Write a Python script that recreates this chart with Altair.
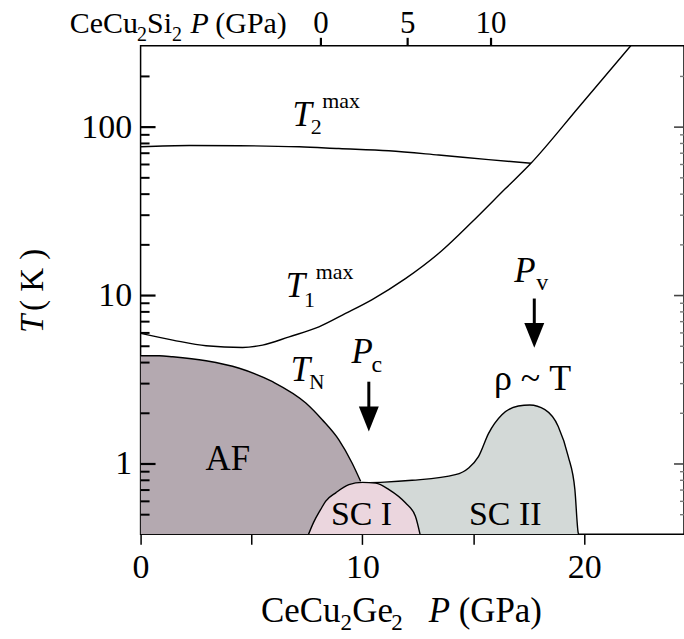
import math

import altair as alt
import pandas as pd

FONT = "Liberation Serif"

# Axis ranges: pressure on CeCu2Ge2 scale (GPa), temperature (K, log)
P_RANGE = [0, 24.5]
T_RANGE = [0.382, 304]
T_FLOOR = 0.382

# T2max crossover line
t2_p = [0, 2.2, 4.45, 7.15, 8.94, 11.19, 13.44, 15.69, 17.6]
t2_t = [76.4, 77.8, 77.6, 76.4, 74.6, 72.4, 68.3, 64.1, 61.0]

# T1max line, merging into the single high-pressure branch
t1_p = [0, 1.45, 2.95, 4.6, 5.5, 6.7, 8.04, 9.24, 10.44, 11.94, 13.59, 14.94, 16.44, 17.6, 19.81, 22.1]
t1_t = [5.96, 5.44, 5.03, 4.92, 5.08, 5.69, 6.52, 7.83, 9.47, 12.6, 18.5, 27.3, 43.0, 61.0, 134, 304]

# Neel temperature T_N bounding the AF phase
af_p = [0, 0.85, 1.45, 2.95, 4.45, 5.95, 7.45, 8.19, 8.94, 9.54, 9.92]
af_t = [4.39, 4.39, 4.33, 4.10, 3.70, 3.08, 2.30, 1.83, 1.39, 1.01, 0.789]

# Superconducting dome I
sc1_p = [7.57, 7.8, 8.12, 8.34, 8.8, 9.39, 10.0, 10.6, 11.2, 11.94, 12.39, 12.6]
sc1_t = [0.382, 0.45, 0.537, 0.60, 0.674, 0.754, 0.778, 0.77, 0.705, 0.588, 0.49, 0.382]

# Superconducting dome II
sc2_p = [10.0, 11.0, 12.24, 14.19, 14.79, 15.24, 15.69, 16.29, 17.03, 17.55, 18.23, 18.83, 19.28, 19.58, 19.73, 19.75]
sc2_t = [0.775, 0.78, 0.80, 0.864, 0.947, 1.11, 1.52, 1.96, 2.21, 2.24, 2.10, 1.67, 1.11, 0.705, 0.39, 0.382]

# Temperature ticks
t_major = [1, 10, 100]
t_minor = [0.5, 0.6, 0.7, 0.8, 0.9, 2, 3, 4, 5, 6, 7, 8, 9,
           20, 30, 40, 50, 60, 70, 80, 90, 200]

# CeCu2Si2 pressure scale on top: labels and where they sit on the CeCu2Ge2 scale
top_labels = ["0", "5", "10"]
top_label_p = [8.13, 12.04, 15.8]

# Arrows marking P_c and P_v
arrow_p = [10.29, 17.75]
arrow_t_start = [3.08, 9.6]
arrow_t_end = [2.0, 6.4]
arrow_head_t = [1.85, 5.80]

W, H = 545, 490
PX_PER_DECADE = H / math.log10(T_RANGE[1] / T_RANGE[0])

xs = alt.Scale(domain=P_RANGE, nice=False, zero=False)
ys = alt.Scale(type="log", domain=T_RANGE, nice=False)

x_axis = alt.Axis(values=[0, 5, 10, 15, 20],
                  labelExpr="datum.value % 10 === 0 ? datum.label : ''",
                  tickSize=10, tickWidth=1.5, tickColor="black",
                  domain=False, grid=False, labelFont=FONT, labelFontSize=34,
                  labelColor="black", labelPadding=6, labelFlush=False,
                  labelOverlap=False, title=None)
y_axis = alt.Axis(values=t_major, format="d", ticks=False, domain=False, grid=False,
                  labelFont=FONT, labelFontSize=34, labelColor="black",
                  labelPadding=9, labelFlush=False, labelOverlap=False, title=None)

X = alt.X("P:Q", scale=xs, axis=x_axis)
Y = alt.Y("T:Q", scale=ys, axis=y_axis)
Y2 = alt.Y2("T0:Q")


def frame(ps, ts):
    return pd.DataFrame({"P": ps, "T": ts, "T0": [T_FLOOR] * len(ps)})


edge = {"color": "black", "strokeWidth": 1.4}


def dome(ps, ts, fill):
    return alt.Chart(frame(ps, ts)).mark_area(
        color=fill, opacity=1, fillOpacity=1, interpolate="monotone",
        line=edge, clip=True
    ).encode(x=X, y=Y, y2=Y2)


af = dome(af_p, af_t, "#b4a9b0")
sc2 = dome(sc2_p, sc2_t, "#d3d9d7")
sc1 = dome(sc1_p, sc1_t, "#ebd6de")

t2 = alt.Chart(frame(t2_p, t2_t)).mark_line(
    color="black", strokeWidth=1.4, interpolate="monotone", clip=True
).encode(x=X, y=Y)

t1 = alt.Chart(frame(t1_p, t1_t)).mark_line(
    color="black", strokeWidth=1.4, interpolate="monotone", clip=True
).encode(x=X, y=Y)


# Inward ticks along the temperature scale, x extent given in pixels
def t_ticks(values, x0, x1, color, width):
    return alt.Chart(pd.DataFrame({"T": values})).mark_rule(
        color=color, strokeWidth=width
    ).encode(y=Y, x=alt.value(x0), x2=alt.value(x1))


left_major = t_ticks(t_major, 0, 15, "black", 2.2)
left_minor = t_ticks(t_minor, 0, 9, "black", 2.0)
right_major = t_ticks(t_major, W - 10, W, "#444444", 1.6)
right_minor = t_ticks(t_minor, W - 4, W, "#777777", 1.4)

# Top CeCu2Si2 axis: ticks rise 8 px above the frame
t_tick_top = T_RANGE[1] * 10 ** (8 / PX_PER_DECADE)
top_tick_df = pd.DataFrame({"P": top_label_p, "T": [T_RANGE[1]] * 3,
                            "T0": [t_tick_top] * 3})
top_ticks = alt.Chart(top_tick_df).mark_rule(color="black", strokeWidth=2.2).encode(
    x=X, y=Y, y2=Y2)

top_df = pd.DataFrame({"P": top_label_p, "label": top_labels})
top_text = alt.Chart(top_df).mark_text(
    font=FONT, fontSize=31, color="black", align="center", baseline="alphabetic"
).encode(x=X, y=alt.value(-13), text="label:N")

# Arrows
arrow_df = pd.DataFrame({"P": arrow_p, "T": arrow_t_start, "T0": arrow_t_end,
                         "Th": arrow_head_t})
shafts = alt.Chart(arrow_df).mark_rule(color="black", strokeWidth=3).encode(
    x=X, y=Y, y2=Y2)
heads = alt.Chart(arrow_df).mark_point(
    shape="M -0.8 -1 L 0.8 -1 L 0 1 Z", filled=True, size=625, color="black",
    opacity=1, strokeWidth=0
).encode(x=X, y=alt.Y("Th:Q", scale=ys, axis=y_axis))


def data_text(rows, italic=False, align="left"):
    df = pd.DataFrame(rows, columns=["label", "P", "T", "fs"])
    return alt.Chart(df).mark_text(
        font=FONT, fontStyle="italic" if italic else "normal", color="black",
        align=align, baseline="alphabetic"
    ).encode(x=X, y=Y, text="label:N", size=alt.Size("fs:Q", scale=None, legend=None))


labels_italic = data_text([
    ("T", 6.85, 102, 35),
    ("T", 6.55, 9.81, 35),
    ("T", 6.77, 3.12, 35),
    ("P", 9.51, 3.99, 35),
    ("P", 16.85, 12.04, 35),
], italic=True)

labels_small = data_text([
    ("2", 7.67, 90.9, 22),
    ("max", 8.19, 130.6, 22),
    ("1", 7.37, 8.56, 22),
    ("max", 7.9, 12.6, 22),
    ("N", 7.6, 2.78, 21),
    ("c", 10.41, 3.53, 24),
    ("v", 17.84, 10.75, 24),
])

labels_center = data_text([
    ("AF", 3.93, 0.925, 35),
    ("SC I", 9.96, 0.437, 34),
    ("SC II", 16.44, 0.437, 34),
    ("ρ ~ T", 17.67, 2.75, 36),
], align="center")

one = pd.DataFrame({"k": [0]})


def px_text(s, x, y, fs, italic=False, angle=0, baseline="alphabetic"):
    return alt.Chart(one).mark_text(
        text=s, font=FONT, fontSize=fs, fontStyle="italic" if italic else "normal",
        color="black", align="left", baseline=baseline, angle=angle
    ).encode(x=alt.value(x), y=alt.value(y))


# Axis titles built from pieces (subscripts and italic P)
bottom_title = [
    px_text("CeCu", 120.7, 578, 35),
    px_text("2", 200.5, 586, 23),
    px_text("Ge", 212.3, 578, 35),
    px_text("2", 251.5, 586, 23),
    px_text("P", 289, 578, 35, italic=True),
    px_text("(GPa)", 319, 578, 35),
]
top_title = [
    px_text("CeCu", -71, -13, 30),
    px_text("2", -3.5, -5, 20),
    px_text("Si", 6.5, -13, 30),
    px_text("2", 31.5, -5, 20),
    px_text("P", 50, -13, 30, italic=True),
    px_text("(GPa)", 75, -13, 30),
]
left_title = [
    px_text("T", -108, 288, 33, italic=True, angle=270, baseline="middle"),
    px_text("( K )", -108, 266, 33, angle=270, baseline="middle"),
]

# Tick layers go last so nothing is painted over them
chart = alt.layer(
    af, sc2, sc1, t2, t1,
    top_text, shafts, heads,
    labels_italic, labels_small, labels_center,
    *bottom_title, *top_title, *left_title,
    left_major, left_minor, right_major, right_minor, top_ticks
).properties(
    width=W, height=H,
    autosize=alt.AutoSizeParams(type="none"),
    padding={"left": 141, "top": 45, "right": 0, "bottom": 104},
    background="white"
).configure_view(stroke="black", strokeWidth=1.5)

chart.save("out.html", embed_options={"renderer": "svg", "actions": False})
